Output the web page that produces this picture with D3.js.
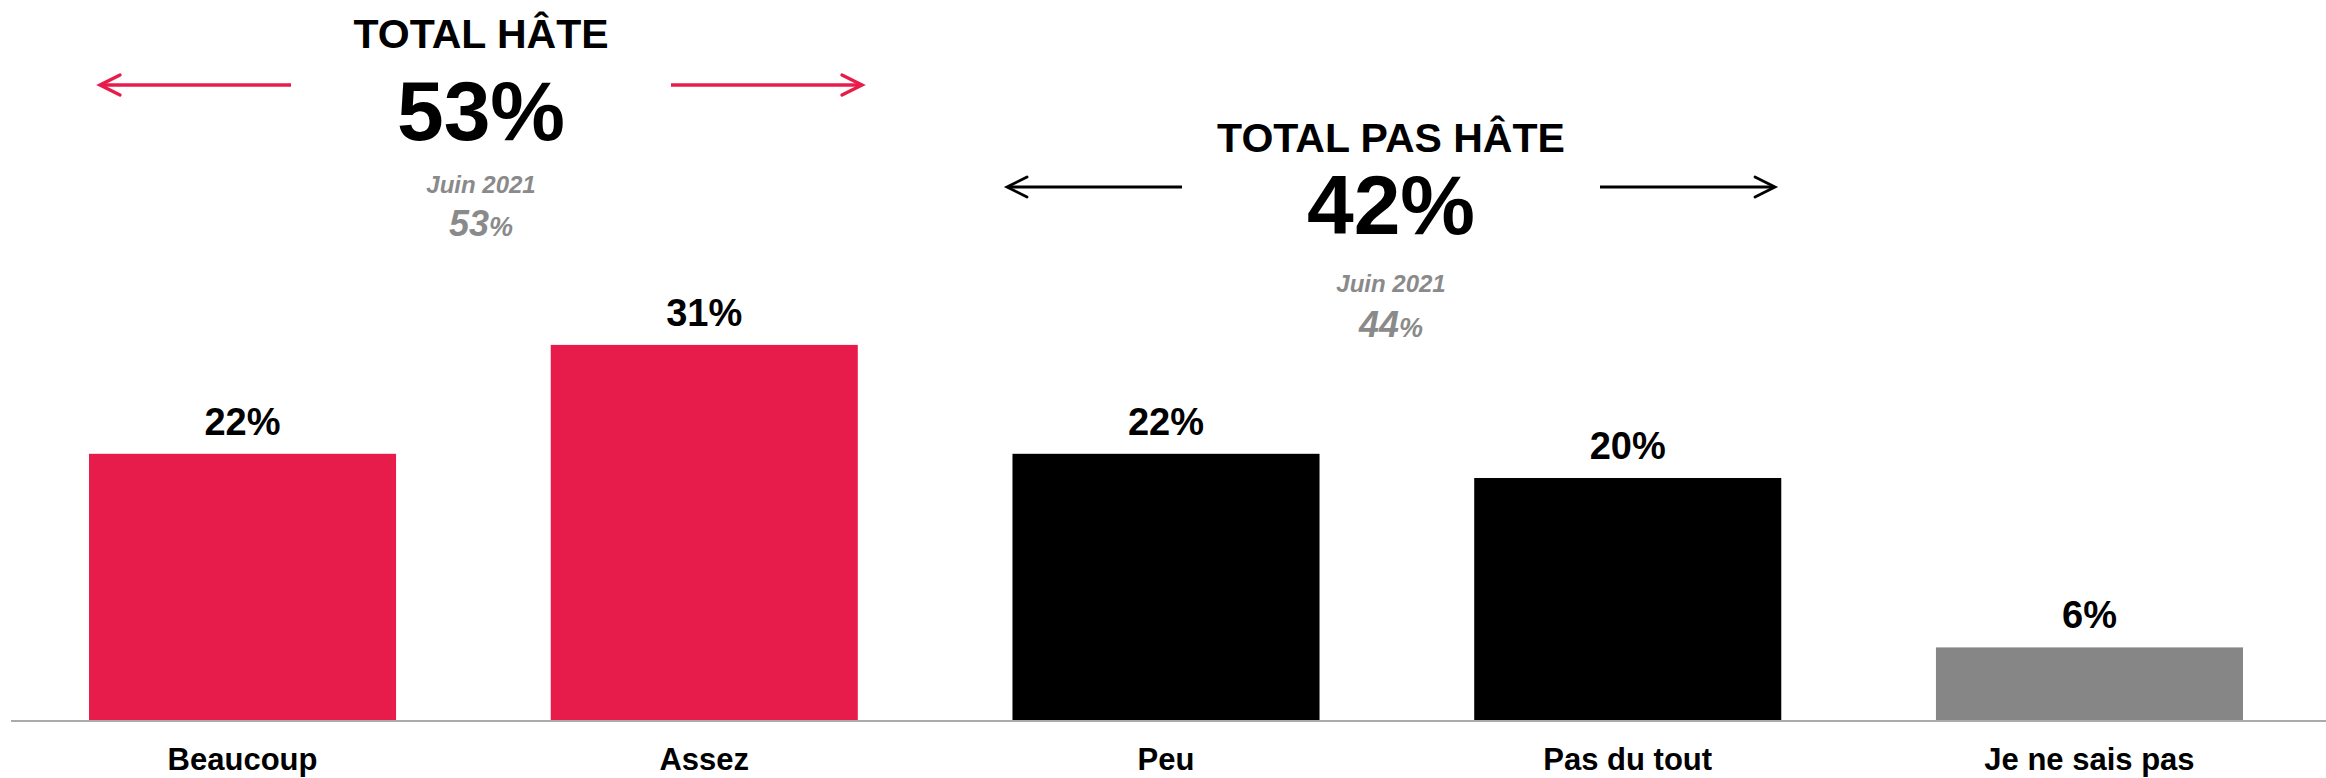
<!DOCTYPE html>
<html>
<head>
<meta charset="utf-8">
<script src="https://cdn.jsdelivr.net/npm/d3@7"></script>
<style>
  html, body { margin: 0; padding: 0; background: #ffffff; }
  svg { display: block; }
  text { font-family: "Liberation Sans", Arial, Helvetica, sans-serif; }
</style>
</head>
<body>
<svg id="chart" width="2326" height="778"></svg>
<script>
const categories = ["Beaucoup", "Assez", "Peu", "Pas du tout", "Je ne sais pas"];
const values = [22, 31, 22, 20, 6];
const valueLabels = ["22%", "31%", "22%", "20%", "6%"];
const barColors = ["#E81C4B", "#E81C4B", "#000000", "#000000", "#868686"];

const groupTitles = ["TOTAL HÂTE", "TOTAL PAS HÂTE"];
const groupTotals = ["53%", "42%"];
const groupPrevLabel = ["Juin 2021", "Juin 2021"];
const groupPrevValues = ["53", "44"];
const groupColors = ["#E81C4B", "#000000"];

const svg = d3.select("#chart");
const W = 2326, H = 778;

const x = d3.scaleBand().domain(categories).range([89, 2243]).paddingInner(0.335).paddingOuter(0);
const y = d3.scaleLinear().domain([0, 31]).range([720, 720 - 31 * 12.1]);

// baseline
svg.append("line")
  .attr("x1", 11).attr("x2", W).attr("y1", 721).attr("y2", 721)
  .attr("stroke", "#AAAAAA").attr("stroke-width", 2);

// bars
svg.selectAll("rect.bar").data(values).enter().append("rect")
  .attr("class", "bar")
  .attr("x", (d, i) => x(categories[i]))
  .attr("width", x.bandwidth())
  .attr("y", d => y(d))
  .attr("height", d => y(0) - y(d))
  .attr("fill", (d, i) => barColors[i]);

// value labels
svg.selectAll("text.val").data(values).enter().append("text")
  .attr("class", "val")
  .attr("x", (d, i) => x(categories[i]) + x.bandwidth() / 2)
  .attr("y", d => y(d) - 19)
  .attr("text-anchor", "middle")
  .attr("font-size", 38).attr("font-weight", "bold").attr("fill", "#000")
  .text((d, i) => valueLabels[i]);

// category labels
svg.selectAll("text.cat").data(categories).enter().append("text")
  .attr("class", "cat")
  .attr("x", d => x(d) + x.bandwidth() / 2)
  .attr("y", 770)
  .attr("text-anchor", "middle")
  .attr("font-size", 31).attr("font-weight", "bold").attr("fill", "#000")
  .text(d => d);

// group annotations
const groups = [
  { cx: 481, titleY: 48, totalY: 140, prevLY: 193, prevVY: 236, arrowY: 85, armL: [100, 291], armR: [671, 862], sw: 3.4 },
  { cx: 1391, titleY: 152, totalY: 234, prevLY: 292, prevVY: 337, arrowY: 187, armL: [1007, 1182], armR: [1600, 1775], sw: 2.8 }
];

groups.forEach((g, i) => {
  const col = groupColors[i];
  svg.append("text").attr("x", g.cx).attr("y", g.titleY).attr("text-anchor", "middle")
    .attr("font-size", 41).attr("font-weight", "bold").attr("fill", "#000").text(groupTitles[i]);
  svg.append("text").attr("x", g.cx).attr("y", g.totalY).attr("text-anchor", "middle")
    .attr("font-size", 84).attr("font-weight", "bold").attr("fill", "#000").text(groupTotals[i]);
  svg.append("text").attr("x", g.cx).attr("y", g.prevLY).attr("text-anchor", "middle")
    .attr("font-size", 24).attr("font-weight", "bold").attr("font-style", "italic")
    .attr("fill", "#8A8A8A").text(groupPrevLabel[i]);
  const pv = svg.append("text").attr("x", g.cx).attr("y", g.prevVY).attr("text-anchor", "middle")
    .attr("font-weight", "bold").attr("font-style", "italic").attr("fill", "#8A8A8A");
  pv.append("tspan").attr("font-size", 36).text(groupPrevValues[i]);
  pv.append("tspan").attr("font-size", 27).text("%");

  // left arrow
  svg.append("line").attr("x1", g.armL[0] + 1).attr("x2", g.armL[1]).attr("y1", g.arrowY).attr("y2", g.arrowY)
    .attr("stroke", col).attr("stroke-width", g.sw);
  svg.append("path")
    .attr("d", `M${g.armL[0] + 20},${g.arrowY - 10} L${g.armL[0]},${g.arrowY} L${g.armL[0] + 20},${g.arrowY + 10}`)
    .attr("fill", "none").attr("stroke", col).attr("stroke-width", g.sw).attr("stroke-linecap", "round").attr("stroke-linejoin", "miter");
  // right arrow
  svg.append("line").attr("x1", g.armR[0]).attr("x2", g.armR[1] - 1).attr("y1", g.arrowY).attr("y2", g.arrowY)
    .attr("stroke", col).attr("stroke-width", g.sw);
  svg.append("path")
    .attr("d", `M${g.armR[1] - 20},${g.arrowY - 10} L${g.armR[1]},${g.arrowY} L${g.armR[1] - 20},${g.arrowY + 10}`)
    .attr("fill", "none").attr("stroke", col).attr("stroke-width", g.sw).attr("stroke-linecap", "round").attr("stroke-linejoin", "miter");
});
</script>
</body>
</html>
